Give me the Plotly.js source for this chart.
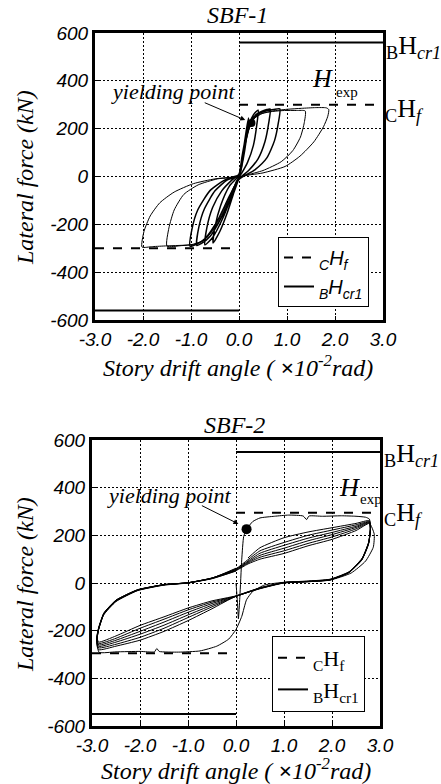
<!DOCTYPE html>
<html>
<head>
<meta charset="utf-8">
<script src="https://cdn.plot.ly/plotly-3.0.1.min.js"></script>
<style>
html,body{margin:0;padding:0;background:#fff;}
#chart{width:441px;height:784px;}
</style>
</head>
<body>
<div id="chart"></div>
<script>
// ---------- tick labels ----------
const driftTicks = [-3, -2, -1, 0, 1, 2, 3];
const driftTickLabels = ['-3.0', '-2.0', '-1.0', '0.0', '1.0', '2.0', '3.0'];
const forceTicks = [-600, -400, -200, 0, 200, 400, 600];
const forceTickLabels = ['-600', '-400', '-200', '0', '200', '400', '600'];

// ---------- SBF-1 ----------
// small cycles (thick cluster near origin)
const sbf1SmallDrift = [
  0, 0.06, 0.12, 0.17, 0.2, 0.18, 0.12, 0.05, 0, -0.12, -0.25, -0.4, -0.54, -0.5, -0.38, -0.2, 0,
  0.06, 0.14, 0.22, 0.3, 0.36, 0.4, 0.37, 0.3, 0.18, 0.06, -0.05, -0.18, -0.35, -0.55, -0.71, -0.67, -0.55, -0.36, -0.15, 0,
  0.08, 0.17, 0.26, 0.36, 0.48, 0.58, 0.65, 0.62, 0.54, 0.4, 0.2, 0, -0.15, -0.35, -0.6, -0.78, -0.88, -0.84, -0.72, -0.5, -0.25, 0,
  0.1, 0.2, 0.3, 0.42, 0.56, 0.72, 0.85, 0.82, 0.74, 0.58, 0.33, 0, -0.2, -0.45, -0.7, -0.88, -1.02, -0.98, -0.86, -0.6, -0.3, 0
];
const sbf1SmallForce = [
  0, 70, 150, 215, 245, 200, 110, 35, -5, -75, -155, -230, -278, -210, -120, -40, 5,
  80, 165, 225, 258, 272, 277, 215, 130, 60, 15, -20, -95, -180, -255, -286, -215, -130, -60, -15, 10,
  90, 180, 232, 260, 273, 280, 282, 225, 145, 75, 25, -10, -75, -165, -250, -280, -288, -215, -135, -60, -15, 5,
  105, 195, 240, 263, 274, 280, 283, 225, 150, 78, 28, -12, -82, -185, -258, -282, -291, -220, -140, -58, -15, 5
];
// large cycles
const sbf1LargeDrift = [
  0, 0.1, 0.2, 0.32, 0.48, 0.7, 0.95, 1.2, 1.38, 1.36, 1.28, 1.12, 0.88, 0.5, 0.15, 0, -0.2, -0.45, -0.7, -0.95, -1.2, -1.5, -1.46, -1.35, -1.15, -0.85, -0.45, 0,
  0.1, 0.2, 0.32, 0.48, 0.7, 1.0, 1.3, 1.6, 1.82, 1.87, 1.85, 1.76, 1.56, 1.27, 0.96, 0.5, 0, -0.2, -0.45, -0.75, -1.0, -1.5, -1.8, -2.02, -1.98, -1.85, -1.65, -1.35, -0.95, -0.5, 0
];
const sbf1LargeForce = [
  5, 105, 195, 243, 263, 272, 276, 276, 274, 225, 165, 108, 62, 25, 5, -8, -85, -192, -262, -284, -289, -291, -215, -140, -75, -35, -10, 3,
  105, 195, 243, 264, 274, 281, 285, 288, 287, 280, 252, 208, 145, 85, 42, 15, -5, -90, -200, -270, -285, -290, -293, -295, -230, -165, -110, -65, -30, -10, 0
];
const sbf1YieldDrift = [0.26];
const sbf1YieldForce = [224];
const sbf1CHf = 300;     // column-governed strength
const sbf1BHcr1 = 560;   // brace strength

// ---------- SBF-2 ----------
const sbf2FirstDrift = [
  0, 0.03, 0.05, 0.08, 0.12, 0.16, 0.22, 0.35, 0.5, 0.8, 1.1, 1.4, 1.47, 1.52, 1.8, 2.2, 2.5, 2.7, 2.78,
  2.8, 2.77, 2.63, 2.36, 1.96, 1.47, 1.0, 0.6, 0.35, 0.22, 0.12, 0.0, -0.15, -0.4, -0.75, -1.2, -1.6, -1.65, -1.7, -2.0, -2.5, -2.85,
  -2.9, -2.87, -2.76, -2.5, -2.05, -1.5, -1.0, -0.5, 0
];
const sbf2FirstForce = [
  0, -80, -150, -60, 100, 195, 226, 258, 273, 280, 285, 281, 266, 281, 280, 282, 280, 276, 268,
  235, 175, 105, 48, 16, 8, 3, -8, -35, -70, -140, -195, -235, -265, -285, -290, -287, -275, -289, -287, -289, -291,
  -255, -200, -135, -78, -32, -9, 0, 20, 62
];
const sbf2CyclesDrift = [
  0.25, 0.5, 1.0, 1.5, 2.0, 2.5, 2.78, 2.8, 2.77, 2.63, 2.36, 1.96, 1.47, 1.0, 0.5, 0, -0.5, -1.0, -1.5, -2.0, -2.5, -2.86, -2.9, -2.87, -2.76, -2.5, -2.05, -1.5, -1.0, -0.5, 0,
  0.25, 0.5, 1.0, 1.5, 2.0, 2.5, 2.78, 2.8, 2.76, 2.62, 2.35, 1.96, 1.47, 1.0, 0.5, 0, -0.5, -1.0, -1.5, -2.0, -2.5, -2.86, -2.9, -2.86, -2.75, -2.5, -2.05, -1.5, -1.0, -0.5, 0,
  0.25, 0.5, 1.0, 1.5, 2.0, 2.5, 2.78, 2.8, 2.76, 2.62, 2.35, 1.96, 1.47, 1.0, 0.5, 0, -0.5, -1.0, -1.5, -2.0, -2.5, -2.86, -2.9, -2.86, -2.75, -2.5, -2.05, -1.5, -1.0, -0.5, 0,
  0.25, 0.5, 1.0, 1.5, 2.0, 2.5, 2.78, 2.8, 2.76, 2.62, 2.35, 1.96, 1.47, 1.0, 0.5, 0, -0.5, -1.0, -1.5, -2.0, -2.5, -2.86, -2.9, -2.86, -2.75, -2.5, -2.05, -1.5, -1.0, -0.5, 0,
  0.25, 0.5, 1.0, 1.5, 2.0, 2.5, 2.78, 2.8, 2.76, 2.62, 2.35, 1.96, 1.47, 1.0, 0.5, 0, -0.5, -1.0, -1.5, -2.0, -2.5, -2.86, -2.9, -2.86, -2.75, -2.5, -2.05, -1.5, -1.0, -0.5, 0,
  0.25, 0.5, 1.0, 1.5, 2.0, 2.5, 2.78, 2.88, 2.86, 2.7, 2.4, 1.96, 1.47, 1.0, 0.5, 0, -0.5, -1.0, -1.5, -2.0, -2.5, -2.86, -2.9, -2.86, -2.75, -2.5, -2.05, -1.5, -1.0, -0.5, 0
];
const sbf2CyclesForce = [
  105, 148, 190, 214, 232, 250, 262, 232, 172, 102, 46, 15, 7, 2, -20, -55, -108, -158, -203, -240, -265, -280, -250, -198, -132, -76, -31, -8, 1, 21, 60,
  98, 135, 170, 200, 222, 244, 258, 228, 168, 100, 45, 14, 6, 2, -21, -56, -100, -145, -190, -228, -257, -272, -245, -195, -130, -75, -30, -7, 1, 21, 58,
  92, 125, 158, 188, 212, 238, 256, 226, 166, 98, 44, 14, 6, 2, -22, -56, -93, -134, -177, -215, -248, -266, -240, -192, -128, -74, -30, -7, 1, 20, 56,
  88, 116, 146, 177, 203, 233, 254, 224, 164, 97, 44, 13, 6, 1, -22, -55, -86, -123, -164, -203, -240, -260, -236, -190, -127, -73, -29, -7, 1, 20, 54,
  84, 108, 135, 166, 193, 227, 252, 222, 162, 96, 43, 13, 5, 1, -23, -55, -80, -113, -152, -190, -232, -254, -232, -188, -126, -72, -29, -7, 1, 19, 52,
  80, 100, 124, 156, 183, 220, 250, 205, 150, 92, 42, 12, 5, 0, -24, -54, -75, -105, -142, -178, -222, -248, -228, -186, -125, -72, -28, -7, 0, 18, 50
];
const sbf2YieldDrift = [0.22];
const sbf2YieldForce = [226];
const sbf2CHf = 295;
const sbf2BHcr1 = 550;

// ---------- build traces ----------
const serif = 'Liberation Serif, Times New Roman, serif';
const sans = 'Liberation Sans, Arial, sans-serif';

function refLine(val, xa, ya, name, dash, legendId) {
  return {
    x: [0, 3, null, -3, 0],
    y: [val, val, null, -val, -val],
    xaxis: xa, yaxis: ya, mode: 'lines', name: name,
    line: {color: '#000', width: 2, dash: dash},
    legend: legendId, showlegend: true, hoverinfo: 'skip'
  };
}

const traces = [
  {x: sbf1SmallDrift, y: sbf1SmallForce, xaxis: 'x', yaxis: 'y', mode: 'lines',
   line: {color: '#000', width: 1.5, shape: 'spline', smoothing: 0.6}, showlegend: false},
  {x: sbf1LargeDrift, y: sbf1LargeForce, xaxis: 'x', yaxis: 'y', mode: 'lines',
   line: {color: '#000', width: 1, shape: 'spline', smoothing: 0.6}, showlegend: false},
  {x: sbf1YieldDrift, y: sbf1YieldForce, xaxis: 'x', yaxis: 'y', mode: 'markers',
   marker: {color: '#000', size: 8}, showlegend: false},
  refLine(sbf1CHf, 'x', 'y', '<sub>C</sub>H<sub>f</sub>', 'dash', 'legend'),
  refLine(sbf1BHcr1, 'x', 'y', '<sub>B</sub>H<sub>cr1</sub>', 'solid', 'legend'),

  {x: sbf2FirstDrift, y: sbf2FirstForce, xaxis: 'x2', yaxis: 'y2', mode: 'lines',
   line: {color: '#000', width: 1, shape: 'spline', smoothing: 0.5}, showlegend: false},
  {x: sbf2CyclesDrift, y: sbf2CyclesForce, xaxis: 'x2', yaxis: 'y2', mode: 'lines',
   line: {color: '#000', width: 1, shape: 'spline', smoothing: 0.5}, showlegend: false},
  {x: sbf2YieldDrift, y: sbf2YieldForce, xaxis: 'x2', yaxis: 'y2', mode: 'markers',
   marker: {color: '#000', size: 10}, showlegend: false},
  refLine(sbf2CHf, 'x2', 'y2', '<sub>C</sub>H<sub>f</sub>', 'dash', 'legend2'),
  refLine(sbf2BHcr1, 'x2', 'y2', '<sub>B</sub>H<sub>cr1</sub>', 'solid', 'legend2')
];

const gridDash = '2px,2px';
function xAxis(domain, anchor) {
  return {
    domain: domain, anchor: anchor, range: [-3, 3],
    tickvals: driftTicks, ticktext: driftTickLabels,
    showgrid: true, gridcolor: '#000', griddash: gridDash, gridwidth: 1,
    showline: true, linecolor: '#000', linewidth: 3, mirror: true,
    ticks: 'inside', ticklen: 4, tickcolor: '#000', zeroline: false,
    tickfont: {family: sans, size: 19, style: 'italic', color: '#000'}
  };
}
function yAxis(domain, anchor) {
  return {
    domain: domain, anchor: anchor, range: [-600, 600],
    tickvals: forceTicks, ticktext: forceTickLabels,
    showgrid: true, gridcolor: '#000', griddash: gridDash, gridwidth: 1,
    showline: true, linecolor: '#000', linewidth: 3, mirror: true,
    ticks: 'inside', ticklen: 4, tickcolor: '#000', zeroline: false,
    tickfont: {family: sans, size: 19, style: 'italic', color: '#000'}
  };
}

function paperAnn(text, px, py, font, xanchor, angle) {
  return {text: text, xref: 'paper', yref: 'paper', x: px / 441, y: 1 - py / 784,
          xanchor: xanchor || 'center', yanchor: 'middle', showarrow: false, font: font,
          textangle: angle || 0};
}
const titleFont = {family: serif, size: 24, style: 'italic', color: '#000'};
const yieldFont = {family: serif, size: 22, style: 'italic', color: '#000'};
const axisTitleFont = {family: serif, size: 24, style: 'italic', color: '#000'};
const bigH = {family: serif, size: 26, color: '#000'};
const bigHItalic = {family: serif, size: 26, style: 'italic', color: '#000'};
const smallSub = {family: serif, size: 15, color: '#000'};
const xTitle = 'Story drift angle ( <b>×</b>10<sup>-2</sup>rad)';
const yTitle = 'Lateral force (kN)';

const annotations = [
  paperAnn('SBF-1', 237, 15, titleFont),
  paperAnn('SBF-2', 235, 425, titleFont),
  paperAnn(xTitle, 238, 366, axisTitleFont),
  paperAnn(xTitle, 236, 769, axisTitleFont),
  paperAnn(yTitle, 25, 178, axisTitleFont, 'center', -90),
  paperAnn(yTitle, 25, 585, axisTitleFont, 'center', -90),
  paperAnn('yielding point', 173, 92, yieldFont),
  paperAnn('yielding point', 169, 495, yieldFont),
  {text: '', xref: 'x', yref: 'y', x: 0.13, y: 236, ax: -42, ay: -18, showarrow: true,
   arrowhead: 2, arrowsize: 1, arrowwidth: 1, arrowcolor: '#000'},
  {text: '', xref: 'x2', yref: 'y2', x: 0.05, y: 248, ax: -38, ay: -19, showarrow: true,
   arrowhead: 2, arrowsize: 1, arrowwidth: 1, arrowcolor: '#000'},
  paperAnn('<sub>B</sub>H<sub><i>cr1</i></sub>', 384, 47, bigH, 'left'),
  paperAnn('H', 322, 78, bigHItalic),
  paperAnn('exp', 347, 92, smallSub),
  paperAnn('<sub>C</sub>H<sub><i>f</i></sub>', 383, 110, bigH, 'left'),
  paperAnn('<sub>B</sub>H<sub><i>cr1</i></sub>', 382, 455, bigH, 'left'),
  paperAnn('H', 349, 487, bigHItalic),
  paperAnn('exp', 371, 499, smallSub),
  paperAnn('<sub>C</sub>H<sub><i>f</i></sub>', 382, 514, bigH, 'left')
];

const legendBase = {
  bgcolor: '#fff', bordercolor: '#000', borderwidth: 1,
  xanchor: 'left', yanchor: 'top', tracegroupgap: 0, itemwidth: 30
};

const layout = {
  width: 441, height: 784,
  margin: {l: 0, r: 0, t: 0, b: 0},
  paper_bgcolor: '#fff', plot_bgcolor: '#fff',
  xaxis: xAxis([95 / 441, 383 / 441], 'y'),
  yaxis: yAxis([1 - 320 / 784, 1 - 33 / 784], 'x'),
  xaxis2: xAxis([92 / 441, 380 / 441], 'y2'),
  yaxis2: yAxis([1 - 726 / 784, 1 - 440 / 784], 'x2'),
  legend: Object.assign({}, legendBase, {x: 278 / 441, y: 1 - 237 / 784,
    font: {family: sans, size: 20, style: 'italic', color: '#000'}}),
  legend2: Object.assign({}, legendBase, {x: 272 / 441, y: 1 - 636 / 784,
    font: {family: serif, size: 22, color: '#000'}}),
  annotations: annotations,
  showlegend: true
};

Plotly.newPlot('chart', traces, layout, {displayModeBar: false, staticPlot: true});
</script>
</body>
</html>
